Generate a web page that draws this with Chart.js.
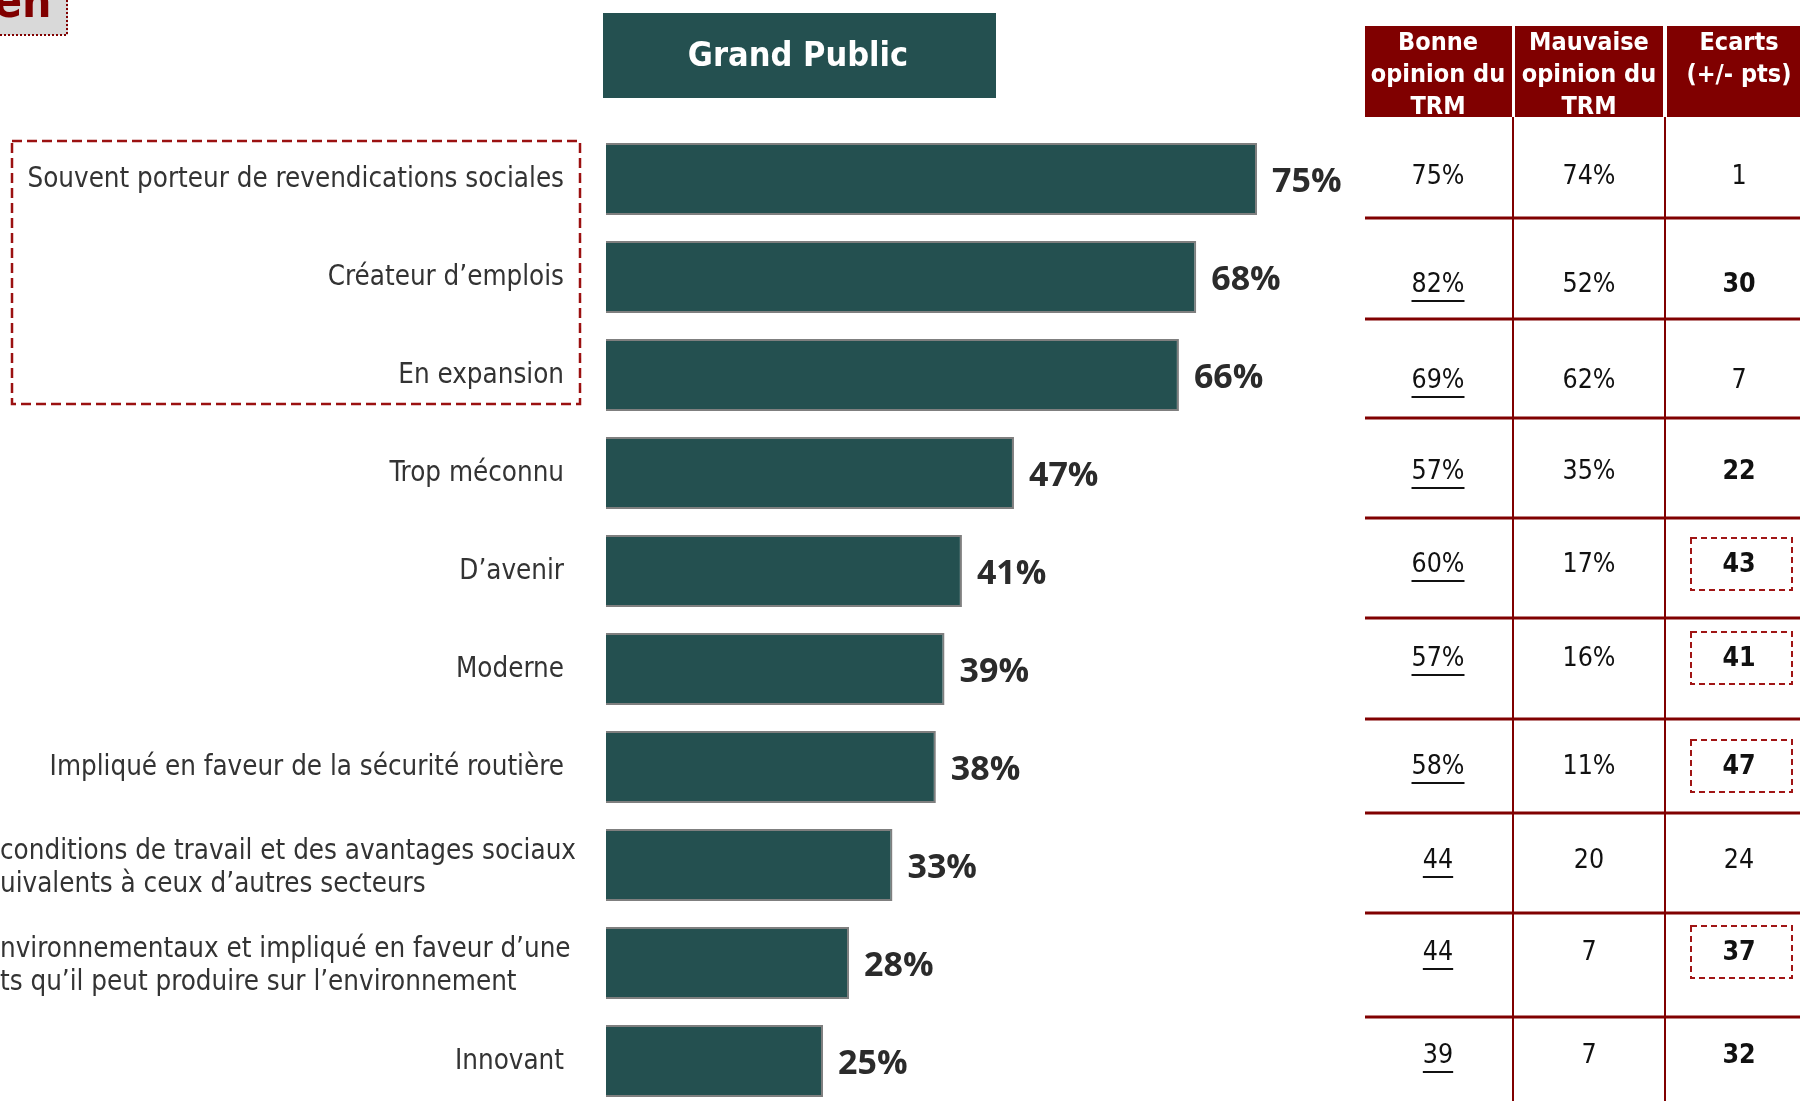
<!DOCTYPE html>
<html>
<head>
<meta charset="utf-8">
<script src="https://cdn.jsdelivr.net/npm/chart.js@4"></script>
<style>
  html, body { margin: 0; padding: 0; background: #fff; overflow: hidden; }
  canvas { display: block; }
</style>
</head>
<body>
<canvas id="barChart" width="1800" height="1120"></canvas>
<script>
const labels = [
  'Souvent porteur de revendications sociales',
  'Créateur d’emplois',
  'En expansion',
  'Trop méconnu',
  'D’avenir',
  'Moderne',
  'Impliqué en faveur de la sécurité routière',
  'conditions de travail et des avantages sociaux\nuivalents à ceux d’autres secteurs',
  'nvironnementaux et impliqué en faveur d’une\nts qu’il peut produire sur l’environnement',
  'Innovant'
];
const dataValues = [75, 68, 66, 47, 41, 39, 38, 33, 28, 25];

const tableHeaders = [
  ['Bonne', 'opinion du', 'TRM'],
  ['Mauvaise', 'opinion du', 'TRM'],
  ['Ecarts', '(+/- pts)']
];
const bonneOpinion = ['75%', '82%', '69%', '57%', '60%', '57%', '58%', '44', '44', '39'];
const mauvaiseOpinion = ['74%', '52%', '62%', '35%', '17%', '16%', '11%', '20', '7', '7'];
const ecarts = [1, 30, 7, 22, 43, 41, 47, 24, 37, 32];
const ecartsBold = [false, true, false, true, true, true, true, false, true, true];
const ecartsBoxed = [false, false, false, false, true, true, true, false, true, false];

const green = '#245050';
const maroon = '#800000';
const textCol = '#333333';
const labelFont = '"DejaVu Sans Condensed", "Open Sans", sans-serif';

// table geometry (pixels)
const colX = [1365, 1515, 1666, 1800];
const colCenter = [1438, 1589, 1739];
const rowLines = [218, 319, 418, 518, 618, 719, 813, 913, 1017];
const rowText = [177, 285, 381, 472, 565, 659, 767, 861, 953, 1056];

function dashedRect(ctx, x, y, w, h, dash, lw, col) {
  ctx.save();
  ctx.setLineDash(dash);
  ctx.lineWidth = lw;
  ctx.strokeStyle = col;
  ctx.strokeRect(x, y, w, h);
  ctx.restore();
}

const decorPlugin = {
  id: 'decor',
  beforeDraw(chart) {
    const ctx = chart.ctx;
    ctx.save();
    // corner tab
    ctx.fillStyle = '#d9d9d9';
    ctx.fillRect(0, 0, 68, 35);
    ctx.setLineDash([2, 2]);
    ctx.strokeStyle = maroon;
    ctx.lineWidth = 2;
    ctx.beginPath();
    ctx.moveTo(67, 0); ctx.lineTo(67, 35); ctx.lineTo(0, 35);
    ctx.stroke();
    ctx.setLineDash([]);
    ctx.fillStyle = maroon;
    ctx.font = 'bold 46px ' + labelFont;
    ctx.textAlign = 'left';
    ctx.textBaseline = 'alphabetic';
    ctx.fillText('en', -6, 17);

    // Grand Public title box
    ctx.fillStyle = green;
    ctx.fillRect(603, 13, 393, 85);
    ctx.fillStyle = '#fff';
    ctx.font = 'bold 34px ' + labelFont;
    ctx.textAlign = 'center';
    ctx.textBaseline = 'middle';
    ctx.fillText('Grand Public', 798, 57);
    ctx.restore();
  },
  afterDatasetsDraw(chart) {
    const ctx = chart.ctx;
    const y = chart.scales.y;
    const meta = chart.getDatasetMeta(0);
    ctx.save();

    // category labels
    ctx.fillStyle = textCol;
    ctx.font = '27.5px ' + labelFont;
    ctx.textBaseline = 'middle';
    labels.forEach((lab, i) => {
      const py = y.getPixelForValue(i) + 1;
      const lines = lab.split('\n');
      if (lines.length > 1) {
        ctx.textAlign = 'left';
        lines.forEach((l, k) => ctx.fillText(l, 0, py + 2 + (k - (lines.length - 1) / 2) * 33));
      } else {
        ctx.textAlign = 'right';
        ctx.fillText(lab, 564, py);
      }
    });

    // value labels
    ctx.font = 'bold 34px "Open Sans", sans-serif';
    ctx.textAlign = 'left';
    ctx.fillStyle = '#2b2b2b';
    meta.data.forEach((bar, i) => {
      ctx.fillText(dataValues[i] + '%', bar.x + 15, bar.y + 3);
    });

    // dashed highlight around first three labels
    dashedRect(ctx, 12, 141, 568, 263, [10, 5], 2.5, '#9b1111');

    // table header
    ctx.fillStyle = maroon;
    ctx.fillRect(colX[0], 26, colX[1] - colX[0] - 3, 91);
    ctx.fillRect(colX[1], 26, colX[2] - colX[1] - 3, 91);
    ctx.fillRect(colX[2] + 1, 26, colX[3] - colX[2], 91);
    ctx.fillStyle = '#fff';
    ctx.font = 'bold 25px ' + labelFont;
    ctx.textAlign = 'center';
    tableHeaders.forEach((lines, c) => {
      lines.forEach((l, k) => ctx.fillText(l, colCenter[c], 43 + k * 32));
    });

    // table grid
    ctx.strokeStyle = maroon;
    ctx.lineWidth = 3;
    rowLines.forEach(ly => {
      ctx.beginPath(); ctx.moveTo(colX[0], ly); ctx.lineTo(1800, ly); ctx.stroke();
    });
    ctx.lineWidth = 2;
    [colX[1] - 2, colX[2] - 1].forEach(lx => {
      ctx.beginPath(); ctx.moveTo(lx, 117); ctx.lineTo(lx, 1120); ctx.stroke();
    });

    // table values
    ctx.fillStyle = '#111';
    rowText.forEach((ty, r) => {
      ctx.font = '26.5px ' + labelFont;
      ctx.textAlign = 'center';
      const b = bonneOpinion[r];
      ctx.fillText(b, colCenter[0], ty);
      if (r > 0) {
        const w = ctx.measureText(b).width;
        ctx.fillRect(colCenter[0] - w / 2, ty + 15, w, 2);
      }
      ctx.fillText(mauvaiseOpinion[r], colCenter[1], ty);
      ctx.font = (ecartsBold[r] ? 'bold ' : '') + '26.5px ' + labelFont;
      ctx.fillText(String(ecarts[r]), colCenter[2], ty);
      if (ecartsBoxed[r]) {
        dashedRect(ctx, 1691, ty - 27, 101, 52, [6, 4], 2, '#a01515');
      }
    });
    ctx.restore();
  }
};

new Chart(document.getElementById('barChart'), {
  type: 'bar',
  data: {
    labels,
    datasets: [{
      data: dataValues,
      backgroundColor: green,
      borderColor: '#7f7f7f',
      borderWidth: 2,
      barPercentage: 0.735,
      categoryPercentage: 1
    }]
  },
  options: {
    indexAxis: 'y',
    responsive: false,
    animation: false,
    devicePixelRatio: 1,
    layout: { padding: { left: 606, right: 326, top: 130, bottom: 10 } },
    plugins: { legend: { display: false }, tooltip: { enabled: false } },
    scales: {
      x: { min: 0, max: 100, display: false },
      y: { display: false }
    }
  },
  plugins: [decorPlugin]
});
</script>
</body>
</html>
